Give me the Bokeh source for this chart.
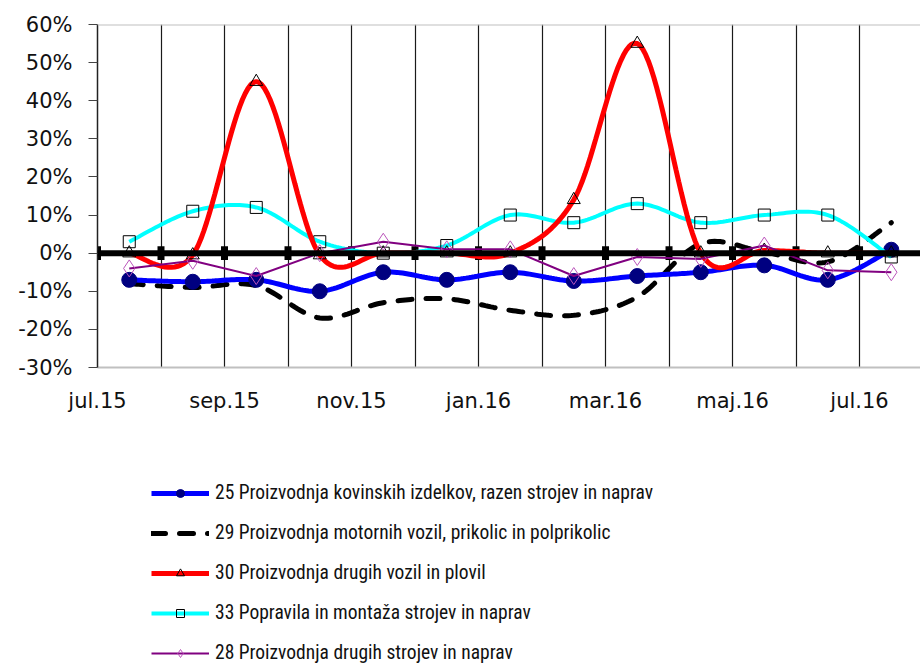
import numpy as np
from bokeh.plotting import figure
from bokeh.layouts import column
from bokeh.models import (Range1d, FixedTicker, PrintfTickFormatter, Legend, LegendItem, Span)
from bokeh.embed import file_html
from bokeh.resources import INLINE

months = ["jul.15", "avg.15", "sep.15", "okt.15", "nov.15", "dec.15", "jan.16",
          "feb.16", "mar.16", "apr.16", "maj.16", "jun.16", "jul.16"]

s25 = [-7, -7.5, -7, -10, -5, -7, -5, -7.3, -6, -5, -3.2, -7, 0.9]
s29 = [-8, -9, -8.5, -17, -13, -12, -15, -16.3, -11.5, 2.5, 0.3, -2.3, 8]
s30 = [0, -0.5, 45, -0.5, 0, 0, 0, 14, 55, 0, 0.7, 0, 0]
s33 = [3, 11, 12, 3, 0, 2, 10, 8, 13, 8, 10, 10, -1]
s28 = [-4, -2, -6, 0, 3, 1, 1, -6, -1, -1.5, 2, -4.5, -5]

names = ["25 Proizvodnja kovinskih izdelkov, razen strojev in naprav",
         "29 Proizvodnja motornih vozil, prikolic in polprikolic",
         "30 Proizvodnja drugih vozil in plovil",
         "33 Popravila in montaža strojev in naprav",
         "28 Proizvodnja drugih strojev in naprav"]

n = len(months)
xs = np.arange(n) + 0.5
bounds = np.arange(n)


def smooth(x, y, k=24):
    x = np.asarray(x, float)
    y = np.asarray(y, float)
    P = np.column_stack([x, y])
    outx, outy = [], []
    for i in range(len(P) - 1):
        p0 = P[i - 1] if i > 0 else P[i]
        p1 = P[i]
        p2 = P[i + 1]
        p3 = P[i + 2] if i + 2 < len(P) else P[i + 1]
        c1 = p1 + (p2 - p0) / 6.0
        c2 = p2 - (p3 - p1) / 6.0
        t = np.linspace(0, 1, k)[:, None]
        if i > 0:
            t = t[1:]
        b = ((1 - t) ** 3) * p1 + 3 * ((1 - t) ** 2) * t * c1 + 3 * (1 - t) * t ** 2 * c2 + t ** 3 * p2
        outx.extend(b[:, 0])
        outy.extend(b[:, 1])
    return outx, outy


FONT = "DejaVu Sans"
LFONT = "Roboto Condensed"

STY = {
    "25l": dict(line_color="#0000ff", line_width=5),
    "25m": dict(marker="circle", size=15, fill_color="#000080", line_color="#000080"),
    "29l": dict(line_color="black", line_width=5, line_dash="14 14", line_cap="round"),
    "30l": dict(line_color="#ff0000", line_width=5),
    "30m": dict(marker="triangle", size=13, fill_color=None, line_color="black", line_width=1),
    "33l": dict(line_color="#00ffff", line_width=4),
    "33m": dict(marker="square", size=12, fill_color=None, line_color="black", line_width=1),
    "28l": dict(line_color="#800080", line_width=2),
    "28m": dict(marker="diamond", size=17, fill_color=None, line_color="#bb55bb", line_width=1),
}
LEGEND_SIZES = {"25m": 9, "30m": 10, "33m": 8, "28m": 12}


def build(fig, sizes=None):
    sizes = sizes or {}

    def st(key):
        d = dict(STY[key])
        if key in sizes:
            d["size"] = sizes[key]
        return d

    r = {}
    x29, y29 = smooth(xs, s29)
    r["29l"] = fig.line(x29, y29, **st("29l"))
    x25, y25 = smooth(xs, s25)
    r["25l"] = fig.line(x25, y25, **st("25l"))
    r["25m"] = fig.scatter(xs, s25, **st("25m"))
    x33, y33 = smooth(xs, s33)
    r["33l"] = fig.line(x33, y33, **st("33l"))
    r["33m"] = fig.scatter(xs, s33, **st("33m"))
    x30, y30 = smooth(xs, s30)
    r["30l"] = fig.line(x30, y30, **st("30l"))
    r["30m"] = fig.scatter(xs, s30, **st("30m"))
    r["28l"] = fig.line(xs, s28, **st("28l"))
    r["28m"] = fig.scatter(xs, s28, **st("28m"))
    return r


p = figure(width=920, height=428, x_range=Range1d(0, 12.96), y_range=Range1d(-30, 60),
           output_backend="svg", toolbar_location=None,
           min_border_left=97, min_border_right=0, min_border_top=24, min_border_bottom=61)
p.outline_line_color = None

p.ygrid.grid_line_color = None
p.xgrid.ticker = FixedTicker(ticks=list(bounds[1:]))
p.xgrid.grid_line_color = "#1a1a1a"
p.xgrid.grid_line_width = 1.2

p.xaxis.ticker = FixedTicker(ticks=list(bounds[::2]))
p.xaxis.major_label_overrides = {int(i): months[i] for i in bounds[::2]}
p.xaxis.axis_line_color = "#c0c0c0"
p.xaxis.axis_line_width = 2
p.xaxis.major_tick_line_color = None
p.xaxis.minor_tick_line_color = None
p.xaxis.major_label_standoff = 15
p.xaxis.major_label_text_font = FONT
p.xaxis.major_label_text_font_size = "21px"
p.xaxis.major_label_text_color = "#111111"

p.yaxis.ticker = FixedTicker(ticks=list(range(-30, 61, 10)))
p.yaxis.formatter = PrintfTickFormatter(format="%d%%")
p.yaxis.axis_line_color = "#222222"
p.yaxis.axis_line_width = 1.5
p.yaxis.major_tick_line_color = "#444444"
p.yaxis.major_tick_out = 9
p.yaxis.major_tick_in = 0
p.yaxis.minor_tick_line_color = None
p.yaxis.major_label_standoff = 16
p.yaxis.major_label_text_font = FONT
p.yaxis.major_label_text_font_size = "21px"
p.yaxis.major_label_text_color = "#111111"

p.add_layout(Span(location=60, dimension="width", line_color="#c0c0c0", line_width=2))
p.add_layout(Span(location=0, dimension="width", line_color="black", line_width=6))
p.segment(x0=bounds, x1=bounds, y0=-1.8, y1=1.8, line_color="black", line_width=7)
build(p)

# legend panel: same series, drawn outside of this panel's visible range
q = figure(width=920, height=237, x_range=Range1d(100, 101), y_range=Range1d(100, 101),
           output_backend="svg", toolbar_location=None,
           min_border_left=0, min_border_right=0, min_border_top=0, min_border_bottom=0)
q.axis.visible = False
q.grid.visible = False
q.outline_line_color = None
rq = build(q, LEGEND_SIZES)

legend = Legend(items=[
    LegendItem(label=names[0], renderers=[rq["25l"], rq["25m"]]),
    LegendItem(label=names[1], renderers=[rq["29l"]]),
    LegendItem(label=names[2], renderers=[rq["30l"], rq["30m"]]),
    LegendItem(label=names[3], renderers=[rq["33l"], rq["33m"]]),
    LegendItem(label=names[4], renderers=[rq["28l"], rq["28m"]]),
], location=(54, 1), orientation="vertical")
legend.label_text_font = LFONT
legend.label_text_font_size = "19.5px"
legend.label_text_color = "#111111"
legend.glyph_width = 58
legend.glyph_height = 20
legend.label_height = 20
legend.label_standoff = 6
legend.spacing = 17
legend.padding = 0
legend.margin = 0
legend.border_line_color = None
legend.background_fill_alpha = 0
q.add_layout(legend)

layout = column(p, q, spacing=0)
open("out.html", "w").write(file_html(layout, INLINE))
